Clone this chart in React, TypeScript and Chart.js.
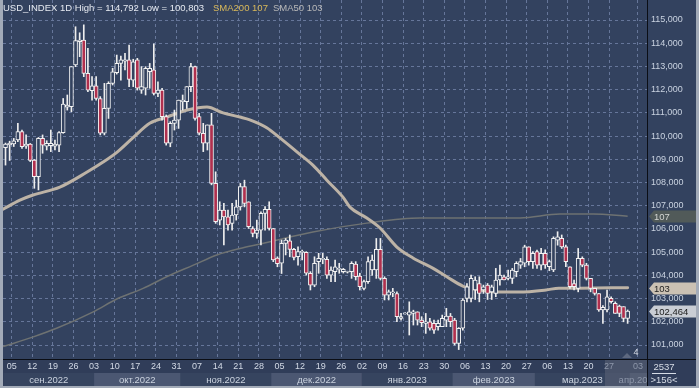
import React, { useEffect, useRef } from 'react';
import { Chart, registerables } from 'chart.js';

Chart.register(...registerables);

// ---------------- data ----------------
const FIRST_INDEX = -2; // 1 Sep 2022 (bar index; 0 = Mon 5 Sep 2022)

const opens = [
  109.50, 109.62, 109.66, 109.83, 110.19, 109.57, 109.66, 108.97, 108.25, 109.90,
  109.57, 109.59, 109.57, 109.61, 110.15, 111.24, 111.27, 113.06, 114.07, 114.14,
  112.70, 111.96, 112.16, 111.62, 110.12, 111.19, 112.27, 112.73, 113.13, 113.23,
  113.28, 112.41, 113.28, 111.98, 112.06, 112.77, 112.85, 111.84, 111.98, 110.84,
  109.69, 110.55, 110.69, 111.48, 111.48, 112.13, 112.99, 110.84, 110.12, 109.69,
  110.48, 107.96, 106.38, 106.81, 106.52, 106.24, 106.60, 106.95, 107.82, 107.17,
  106.02, 105.81, 105.95, 106.67, 106.84, 106.02, 104.74, 104.52, 105.38, 105.49,
  105.12, 104.80, 104.99, 104.99, 104.09, 103.58, 104.59, 104.69, 104.69, 104.01,
  104.16, 104.26, 104.16, 104.14, 104.16, 104.49, 103.97, 103.44, 103.73, 104.23,
  104.23, 105.12, 103.87, 103.15, 103.25, 103.22, 102.15, 102.34, 102.29, 102.36,
  102.43, 102.07, 101.93, 102.00, 101.93, 101.79, 101.79, 102.07, 102.25, 102.07,
  101.07, 101.72, 103.01, 103.01, 103.37, 103.65, 103.37, 103.58, 103.29, 103.22,
  103.80, 103.94, 103.87, 103.87, 104.16, 104.44, 104.52, 105.23, 104.59, 105.02,
  104.44, 104.95, 104.37, 104.23, 105.52, 105.59, 105.23, 104.37, 103.65, 103.44,
  104.73, 104.44, 103.87, 103.44, 103.22, 102.51, 102.51, 103.01, 102.79, 102.68,
  102.65, 102.15,
];
const highs = [
  109.70, 109.78, 109.90, 110.55, 110.26, 110.05, 109.68, 108.99, 109.94, 110.05,
  109.80, 110.26, 109.83, 110.19, 111.62, 111.77, 112.99, 114.71, 114.45, 114.792,
  113.78, 112.56, 112.56, 111.70, 112.27, 112.34, 112.92, 113.49, 113.45, 113.56,
  113.92, 113.31, 113.35, 112.99, 112.99, 113.13, 113.97, 112.34, 112.06, 110.91,
  110.62, 111.12, 111.55, 111.77, 112.13, 113.13, 113.02, 110.98, 110.55, 110.48,
  110.98, 108.46, 107.17, 107.10, 106.81, 107.10, 107.24, 107.96, 108.10, 107.17,
  106.10, 106.38, 106.74, 106.96, 107.17, 106.02, 104.80, 105.52, 105.59, 105.74,
  105.16, 105.23, 105.09, 105.02, 104.16, 104.80, 104.95, 104.95, 104.80, 104.37,
  104.66, 104.52, 104.30, 104.18, 104.59, 104.59, 104.09, 103.80, 104.80, 104.88,
  105.59, 105.59, 103.94, 103.37, 103.44, 103.29, 102.36, 102.40, 102.86, 102.50,
  102.43, 102.22, 102.36, 102.15, 102.07, 102.07, 102.29, 102.58, 102.36, 102.15,
  101.75, 103.00, 103.65, 104.01, 103.94, 103.94, 103.58, 103.65, 103.58, 104.30,
  104.44, 104.01, 104.23, 104.30, 104.59, 104.73, 105.30, 105.23, 105.02, 105.09,
  105.16, 105.10, 104.66, 105.66, 105.88, 105.74, 105.30, 104.37, 103.80, 105.16,
  104.80, 104.52, 103.87, 103.44, 103.22, 102.70, 103.37, 103.08, 102.86, 102.72,
  102.65, 102.51,
];
const lows = [
  108.75, 108.95, 109.55, 109.76, 109.47, 109.47, 108.90, 107.75, 107.68, 109.26,
  109.40, 109.33, 109.40, 109.33, 110.12, 111.12, 111.05, 112.99, 113.42, 112.56,
  111.91, 111.55, 111.55, 110.05, 110.05, 110.76, 112.20, 112.67, 112.41, 112.85,
  112.13, 112.13, 111.98, 111.84, 111.77, 112.06, 111.77, 111.70, 110.69, 109.61,
  109.54, 110.26, 110.33, 111.12, 111.19, 111.91, 110.69, 110.05, 109.33, 109.40,
  107.90, 106.24, 106.17, 105.31, 105.95, 105.95, 106.38, 106.81, 106.95, 106.02,
  105.66, 105.60, 105.31, 105.95, 105.95, 104.59, 104.37, 104.08, 104.88, 104.80,
  104.66, 104.44, 104.66, 104.01, 103.37, 103.51, 104.09, 104.50, 103.87, 103.73,
  103.73, 104.09, 104.10, 104.10, 103.87, 103.80, 103.37, 103.37, 103.65, 104.00,
  103.87, 103.80, 102.94, 102.94, 103.08, 102.00, 102.07, 102.33, 101.43, 101.86,
  101.86, 101.79, 101.50, 101.64, 101.50, 101.64, 101.79, 101.79, 101.79, 101.00,
  100.803, 101.64, 102.86, 102.86, 102.96, 102.86, 103.22, 102.96, 102.96, 103.08,
  103.58, 103.80, 103.80, 103.65, 103.94, 104.30, 104.37, 104.44, 104.30, 104.30,
  104.23, 104.30, 104.20, 104.16, 105.30, 105.16, 104.37, 103.44, 103.37, 103.29,
  104.37, 103.80, 103.29, 103.15, 102.45, 101.93, 102.43, 102.80, 102.36, 102.22,
  102.00, 101.93,
];
const closes = [
  109.65, 109.70, 109.80, 110.19, 109.54, 109.66, 108.95, 108.25, 109.90, 109.61,
  109.69, 109.69, 109.66, 110.15, 111.38, 111.34, 112.99, 114.11, 114.14, 112.70,
  111.98, 112.16, 111.62, 110.12, 111.19, 112.27, 112.77, 113.13, 113.28, 113.28,
  112.44, 113.20, 112.06, 112.13, 112.92, 112.92, 111.84, 111.98, 110.84, 109.69,
  110.55, 110.69, 111.55, 111.55, 112.13, 112.99, 110.76, 110.12, 109.69, 110.48,
  107.96, 106.31, 106.81, 106.52, 106.17, 106.60, 106.95, 107.82, 107.10, 106.10,
  105.81, 105.95, 106.67, 106.84, 106.02, 104.66, 104.50, 105.38, 105.52, 105.12,
  104.77, 105.02, 105.04, 104.09, 103.58, 104.52, 104.73, 104.73, 104.01, 104.23,
  104.37, 104.30, 104.26, 104.17, 104.52, 103.94, 103.51, 103.73, 104.59, 104.66,
  105.12, 103.87, 103.15, 103.29, 103.29, 102.22, 102.22, 102.37, 102.43, 102.43,
  102.07, 101.96, 102.00, 101.72, 101.64, 101.93, 102.15, 102.25, 102.00, 101.07,
  101.72, 102.94, 103.51, 103.87, 103.80, 103.22, 103.51, 103.22, 103.51, 103.80,
  104.01, 103.80, 103.94, 104.23, 104.52, 104.59, 105.23, 104.59, 104.95, 104.44,
  104.95, 104.45, 104.59, 105.59, 105.66, 105.23, 104.59, 103.51, 103.51, 104.73,
  104.44, 103.87, 103.44, 103.22, 102.51, 102.62, 103.08, 102.87, 102.36, 102.36,
  102.15, 102.464,
];

const sma50Index = [-2.6, 1.5, 4.7, 11.2, 17.8, 21.7, 25.1, 28.9, 33.1, 37.2, 42.1, 46.9, 50.8, 54.9, 57.3, 61.5, 64.6, 68.8, 72.6, 76, 79.9, 81.6, 85.7, 88.9, 93, 96.9, 101.8, 105.2, 109, 113.2, 117.8, 122.6, 129.2, 132.3, 137.1, 149];
const sma50Values = [106.85, 107.24, 107.46, 107.8, 108.45, 108.88, 109.31, 109.92, 110.56, 110.82, 111.12, 111.25, 111.0, 110.82, 110.7, 110.35, 109.92, 109.31, 108.75, 108.1, 107.37, 106.94, 106.47, 106.04, 105.22, 104.75, 104.3, 103.93, 103.54, 103.37, 103.28, 103.28, 103.37, 103.45, 103.45, 103.47];

const sma200Index = [-2.6, 4.75, 10.4, 19.3, 25, 31.4, 37.1, 43.6, 49.3, 54.9, 59.8, 62.2, 72.6, 85.7, 98.6, 122.9, 132.6, 140.6, 149];
const sma200Values = [100.93, 101.35, 101.72, 102.43, 102.98, 103.44, 103.94, 104.44, 104.88, 105.16, 105.35, 105.45, 105.87, 106.25, 106.47, 106.47, 106.64, 106.64, 106.55];

// week starts (bar index; future bars after 31 Mar are calendar days)
const weekStartIndex = [0, 5, 10, 15, 20, 25, 30, 35, 40, 45, 50, 55, 60, 65, 70, 75, 80, 85, 90, 95, 100, 105, 110, 115, 120, 125, 130, 135, 140, 145, 152];
const weekLabels = ['05', '12', '19', '26', '03', '10', '17', '24', '31', '07', '14', '21', '28', '05', '12', '19', '26', '02', '09', '16', '23', '30', '06', '13', '20', '27', '06', '13', '20', '27', '03'];

const monthLabels = ['сен.2022', 'окт.2022', 'ноя.2022', 'дек.2022', 'янв.2023', 'фев.2023', 'мар.2023', 'апр.2023'];
const monthStartIndex = [-2.5, 19.5, 40.5, 62.5, 84.5, 106.5, 126.5, 149.5];

const yTicks = [101, 102, 103, 104, 105, 106, 107, 108, 109, 110, 111, 112, 113, 114, 115];

const X_MIN = -2.607;
const X_MAX = 153.7;
const Y_MIN = 100.397;
const Y_MAX = 115.862;
const SHADE_FROM = 143.5;

// ---------------- styles ----------------
const FONT = "'Liberation Sans', Arial, sans-serif";
const BG = '#33425f';
const GRID = '#66769a';
const DOWN = '#b0304e';
const CANDLE_LINE = '#f2f2f2';
const DAYROW = '#303d59';
const BAND_DARK = '#36445f';
const BAND_LIGHT = '#4b5772';
const FRAME = '#a3abb8';

const fmt3 = (v: number) => v.toFixed(3).replace('.', ',');

const decor = {
  id: 'decor',
  beforeDraw(chart: any) {
    const { ctx, width, height, chartArea, scales } = chart;
    const xs = scales.x;
    ctx.save();
    ctx.fillStyle = BG;
    ctx.fillRect(0, 0, width, height);
    const b = chartArea.bottom;
    ctx.fillStyle = DAYROW;
    ctx.fillRect(0, b, width, height - b);
    monthStartIndex.forEach((s: number, k: number) => {
      const e = k + 1 < monthStartIndex.length ? monthStartIndex[k + 1] : X_MAX + 40;
      const x0 = Math.max(xs.getPixelForValue(s), chartArea.left);
      const x1 = Math.min(xs.getPixelForValue(e), chartArea.right);
      if (x1 <= x0) return;
      ctx.fillStyle = k % 2 === 1 ? BAND_LIGHT : BAND_DARK;
      ctx.fillRect(x0, b + 14, x1 - x0, 13);
    });
    // shaded tail of the time axis
    const sx = xs.getPixelForValue(SHADE_FROM);
    ctx.fillStyle = 'rgba(92,100,118,0.55)';
    ctx.fillRect(sx, b + 1, chartArea.right - sx, 26);
    ctx.restore();
  },
  afterDraw(chart: any) {
    const { ctx, width, height, chartArea, scales } = chart;
    const xs = scales.x;
    const ys = scales.y;
    const b = chartArea.bottom;
    const r = chartArea.right;
    ctx.save();

    // separators
    ctx.fillStyle = '#0b0e15';
    ctx.fillRect(0, b, width, 1);
    ctx.fillRect(r, 0, 1, height);

    // day labels
    ctx.textBaseline = 'middle';
    ctx.textAlign = 'center';
    ctx.font = `9px ${FONT}`;
    ctx.save();
    ctx.beginPath();
    ctx.rect(chartArea.left, b, r - chartArea.left, height - b);
    ctx.clip();
    weekStartIndex.forEach((v: number, k: number) => {
      const x = xs.getPixelForValue(v - 0.5);
      ctx.fillStyle = v > SHADE_FROM ? '#8e97aa' : '#d2d9e5';
      ctx.fillText(weekLabels[k], x, b + 8);
    });
    // month labels
    ctx.font = `9.5px ${FONT}`;
    monthStartIndex.forEach((s: number, k: number) => {
      const e = k + 1 < monthStartIndex.length ? monthStartIndex[k + 1] : X_MAX + 40;
      const a = Math.max(s, X_MIN);
      const z = Math.min(e, X_MAX);
      if (z <= a) return;
      const x = xs.getPixelForValue((a + z) / 2);
      ctx.fillStyle = s > SHADE_FROM ? '#8e97aa' : '#cbd3df';
      ctx.fillText(monthLabels[k], x, b + 21);
    });
    ctx.restore();

    // corner box
    ctx.fillStyle = '#d6dce6';
    ctx.font = `9.5px ${FONT}`;
    ctx.textAlign = 'center';
    ctx.fillText('2537', 664, b + 8);
    ctx.fillRect(652, b + 14, 24, 1);
    ctx.fillText('>156<', 664, b + 21);

    // "4" marker
    ctx.fillStyle = '#5d6880';
    ctx.beginPath();
    ctx.moveTo(622, b - 1);
    ctx.lineTo(627, b - 6);
    ctx.lineTo(632, b - 1);
    ctx.closePath();
    ctx.fill();
    ctx.fillStyle = '#d8dee8';
    ctx.font = `9px ${FONT}`;
    ctx.fillText('4', 636, b - 6);

    // price tags
    const tag = (value: number, text: string, bg: string, fg: string) => {
      const y = Math.round(ys.getPixelForValue(value)) + 0.5;
      const x0 = r + 2;
      const x1 = width - 3;
      ctx.beginPath();
      ctx.moveTo(x0, y);
      ctx.lineTo(x0 + 5, y - 6);
      ctx.lineTo(x1, y - 6);
      ctx.lineTo(x1, y + 6);
      ctx.lineTo(x0 + 5, y + 6);
      ctx.closePath();
      ctx.fillStyle = bg;
      ctx.fill();
      ctx.fillStyle = fg;
      ctx.textAlign = 'left';
      ctx.font = `9.5px ${FONT}`;
      ctx.fillText(text, x0 + 5, y + 0.5);
    };
    const s200 = sma200Values[sma200Values.length - 1];
    const s50 = sma50Values[sma50Values.length - 1];
    const last = closes[closes.length - 1];
    tag(s200, String(Math.round(s200)), '#515a59', '#d4d6d2');
    tag(s50, String(Math.round(s50)), '#cbc1b3', '#1e1e1e');
    tag(last, fmt3(last), '#c9cdd4', '#1a1a1a');

    // title
    const hi = Math.max(...highs);
    const lo = Math.min(...lows);
    ctx.textAlign = 'left';
    ctx.font = `9.5px ${FONT}`;
    ctx.fillStyle = '#e6eaf1';
    ctx.fillText(`USD_INDEX 1D High = ${fmt3(hi)} Low = ${fmt3(lo)}`, 3, 8);
    ctx.fillStyle = '#d9b95a';
    ctx.fillText(`SMA200 ${Math.round(s200)}`, 213, 8);
    ctx.fillStyle = '#b9b9b9';
    ctx.fillText(`SMA50 ${Math.round(s50)}`, 273, 8);

    // frame
    ctx.fillStyle = FRAME;
    ctx.fillRect(0, 0, 3, height);
    ctx.fillRect(width - 3, 0, 3, height);
    ctx.fillRect(0, height - 2, width, 2);
    ctx.restore();
  },
};

export default function App() {
  const ref = useRef<HTMLCanvasElement>(null);
  useEffect(() => {
    document.body.style.margin = '0';
    document.body.style.overflow = 'hidden';
    const idx = opens.map((_, k) => FIRST_INDEX + k);
    const bodyData = idx.map((x, k) => ({ x, y: [opens[k], closes[k]] }));
    const wickData = idx.map((x, k) => ({ x, y: [lows[k], highs[k]] }));
    const bodyColors = idx.map((_, k) => (closes[k] >= opens[k] ? BG : DOWN));

    const chart = new Chart(ref.current as HTMLCanvasElement, {
      type: 'bar',
      data: {
        datasets: [
          {
            type: 'bar',
            label: 'body',
            data: bodyData as any,
            backgroundColor: bodyColors,
            borderColor: CANDLE_LINE,
            borderWidth: 1,
            borderSkipped: false,
            barThickness: 4,
            grouped: false,
            order: 0,
          } as any,
          {
            type: 'bar',
            label: 'wick',
            data: wickData as any,
            backgroundColor: '#eeeeee',
            borderWidth: 0,
            barThickness: 1,
            grouped: false,
            order: 1,
          } as any,
          {
            type: 'line',
            label: 'SMA50',
            data: sma50Index.map((x, k) => ({ x, y: sma50Values[k] })),
            borderColor: '#bdb3a6',
            borderWidth: 3,
            pointRadius: 0,
            cubicInterpolationMode: 'monotone',
            borderCapStyle: 'round',
            order: 2,
          } as any,
          {
            type: 'line',
            label: 'SMA200',
            data: sma200Index.map((x, k) => ({ x, y: sma200Values[k] })),
            borderColor: '#6e7272',
            borderWidth: 1.5,
            pointRadius: 0,
            cubicInterpolationMode: 'monotone',
            order: 3,
          } as any,
        ],
      },
      options: {
        responsive: false,
        animation: false,
        events: [],
        layout: { padding: { left: 3, right: 0, top: 0, bottom: 0 }, autoPadding: false } as any,
        plugins: { legend: { display: false }, tooltip: { enabled: false } },
        scales: {
          x: {
            type: 'linear',
            min: X_MIN,
            max: X_MAX,
            offset: false,
            grid: { color: GRID, drawTicks: false, offset: false, lineWidth: 1 },
            border: { display: false, dash: [3, 3] },
            ticks: { display: false },
            afterBuildTicks: (s: any) => {
              s.ticks = weekStartIndex.map((v) => ({ value: v - 0.5 }));
            },
            afterFit: (s: any) => {
              s.height = 29;
              s.paddingLeft = 0;
              s.paddingRight = 0;
            },
          } as any,
          y: {
            type: 'linear',
            position: 'right',
            min: Y_MIN,
            max: Y_MAX,
            grid: { color: GRID, drawTicks: false, lineWidth: 1 },
            border: { display: false, dash: [3, 3] },
            ticks: {
              color: '#c9d2e0',
              font: { size: 9, family: FONT },
              padding: 4,
              autoSkip: false,
              callback: (v: any) => fmt3(Number(v)),
            },
            afterBuildTicks: (s: any) => {
              s.ticks = yTicks.map((v) => ({ value: v }));
            },
            afterFit: (s: any) => {
              s.width = 52;
              s.paddingTop = 0;
              s.paddingBottom = 0;
            },
          } as any,
        },
      },
      plugins: [decor],
    });
    return () => chart.destroy();
  }, []);
  return (
    <canvas
      ref={ref}
      width={699}
      height={388}
      style={{ display: 'block', width: 699, height: 388 }}
    />
  );
}
